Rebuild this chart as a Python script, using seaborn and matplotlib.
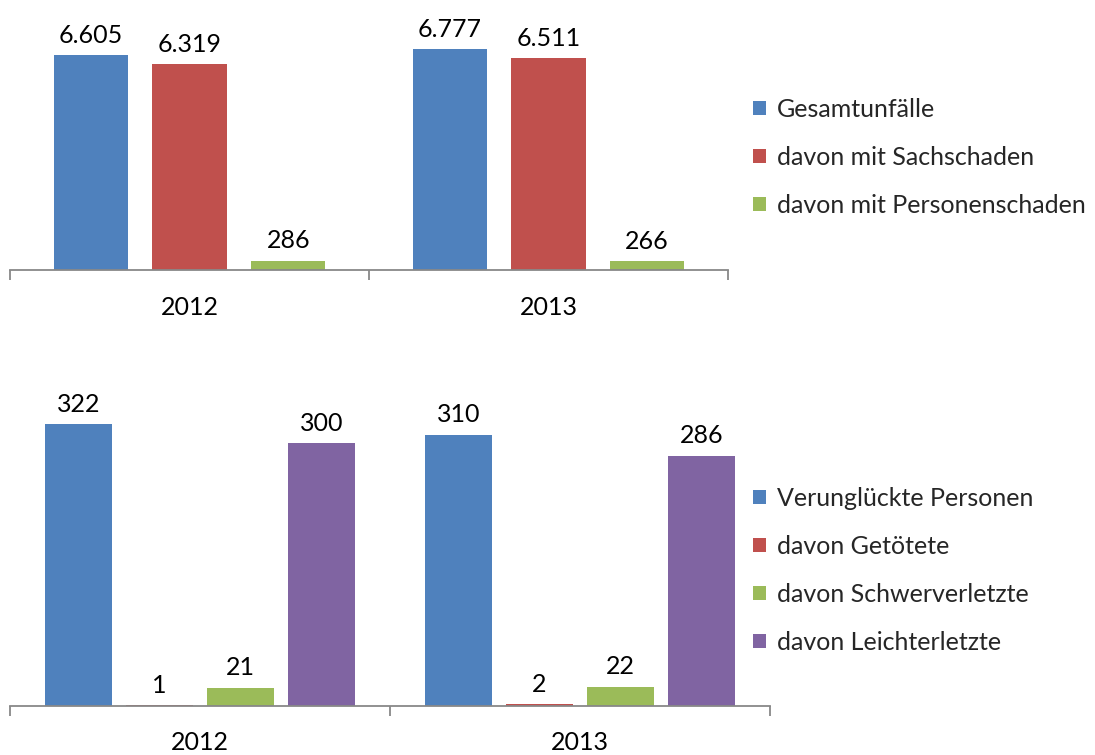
import matplotlib
matplotlib.use("Agg")
import matplotlib.pyplot as plt
import seaborn as sns
import pandas as pd
from matplotlib.patches import Patch

sns.set_theme(style="white")
plt.rcParams['font.family'] = ['Lato', 'DejaVu Sans']

years = ["2012", "2013"]

top_series = ["Gesamtunfälle", "davon mit Sachschaden", "davon mit Personenschaden"]
gesamtunfaelle = [6605, 6777]
sachschaden = [6319, 6511]
personenschaden = [286, 266]

bot_series = ["Verunglückte Personen", "davon Getötete", "davon Schwerverletzte", "davon Leichterletzte"]
verunglueckte = [322, 310]
getoetete = [1, 2]
schwerverletzte = [21, 22]
leichtverletzte = [300, 286]

colors_top = ["#4F81BD", "#C0504D", "#9BBB59"]
colors_bot = ["#4F81BD", "#C0504D", "#9BBB59", "#8064A2"]

def de_fmt(v):
    return f"{v:,}".replace(",", ".")

def make_df(series_names, arrays):
    rows = []
    for name, arr in zip(series_names, arrays):
        for y, v in zip(years, arr):
            rows.append({"Jahr": y, "Serie": name, "Wert": v})
    return pd.DataFrame(rows)

df_top = make_df(top_series, [gesamtunfaelle, sachschaden, personenschaden])
df_bot = make_df(bot_series, [verunglueckte, getoetete, schwerverletzte, leichtverletzte])

W, H = 1095, 755
fig = plt.figure(figsize=(W / 100, H / 100), dpi=100)

ax1 = fig.add_axes([10 / W, (H - 270) / H, 718 / W, 250 / H])
ax2 = fig.add_axes([10 / W, (H - 706) / H, 760 / W, 316 / H])

FS = 18

def style_axes(ax, df, colors, width, gap, ymax, pad):
    sns.barplot(data=df, x="Jahr", y="Wert", hue="Serie", palette=colors,
                width=width, gap=gap, ax=ax, legend=False, saturation=1,
                edgecolor="none")
    ax.set_xlim(-0.5, 1.5)
    ax.set_ylim(0, ymax)
    for s in ["top", "right", "left"]:
        ax.spines[s].set_visible(False)
    ax.spines["bottom"].set_color("#888888")
    ax.spines["bottom"].set_linewidth(1.3)
    ax.set_yticks([])
    ax.set_xlabel("")
    ax.set_ylabel("")
    ax.tick_params(axis="x", which="major", bottom=False, length=0, pad=pad,
                   labelsize=FS, labelcolor="black")
    ax.set_xticks([-0.5, 0.5, 1.5], minor=True)
    ax.tick_params(axis="x", which="minor", bottom=True, length=7, width=1.3,
                   color="#888888", direction="out")
    for cont in ax.containers:
        ax.bar_label(cont, labels=[de_fmt(int(v)) for v in cont.datavalues],
                     padding=6, fontsize=FS, color="black")

style_axes(ax1, df_top, colors_top, 0.825, 0.247, 6605 * 250 / 215, 19)
style_axes(ax2, df_bot, colors_bot, 0.853, 0.174, 322 * 316 / 282, 18)

h1 = [Patch(facecolor=c, edgecolor="none") for c in colors_top]
fig.legend(h1, top_series, loc="upper left", bbox_to_anchor=(753 / W, 1 - 98 / H),
           frameon=False, fontsize=FS, handlelength=0.5, handleheight=0.5,
           handletextpad=0.45, labelspacing=1.0, borderaxespad=0, borderpad=0)

h2 = [Patch(facecolor=c, edgecolor="none") for c in colors_bot]
fig.legend(h2, bot_series, loc="upper left", bbox_to_anchor=(753 / W, 1 - 487 / H),
           frameon=False, fontsize=FS, handlelength=0.5, handleheight=0.5,
           handletextpad=0.45, labelspacing=1.0, borderaxespad=0, borderpad=0)

fig.savefig("out.png", dpi=100)
